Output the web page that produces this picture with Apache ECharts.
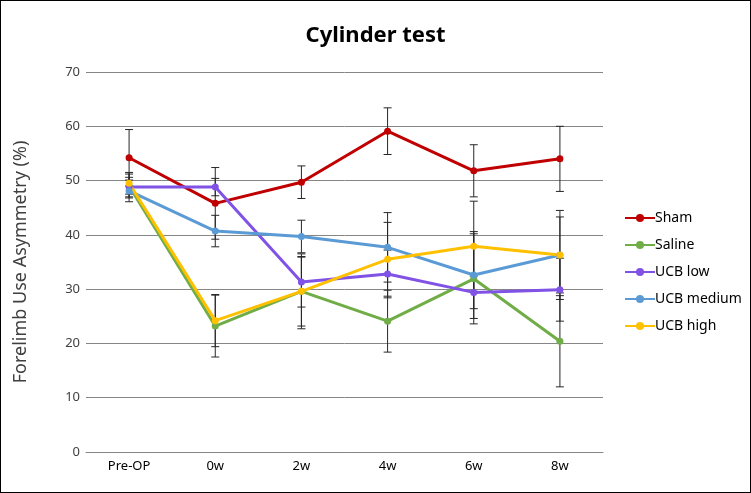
<!DOCTYPE html>
<html><head><meta charset="utf-8">
<script src="https://cdn.jsdelivr.net/npm/echarts@6/dist/echarts.min.js"></script>
<style>
html,body{margin:0;padding:0;background:#fff;}
#c{width:751px;height:493px;box-sizing:border-box;border:1px solid #000;}
</style></head>
<body><div id="c"></div>
<script>
const categories = ['Pre-OP','0w','2w','4w','6w','8w'];
const yTicks = [0,10,20,30,40,50,60,70];
const seriesNames = ['Sham','Saline','UCB low','UCB medium','UCB high'];
const sham      = [54.2, 45.8, 49.7, 59.1, 51.8, 54.0];
const saline    = [49.0, 23.2, 29.6, 24.1, 31.9, 20.4];
const ucbLow    = [48.8, 48.8, 31.3, 32.8, 29.4, 29.9];
const ucbMedium = [48.1, 40.7, 39.7, 37.7, 32.6, 36.3];
const ucbHigh   = [49.5, 24.2, 29.6, 35.5, 37.9, 36.3];
const shamErr      = [5.2, 6.6, 3.0, 4.3, 4.8, 6.0];
const salineErr    = [2.2, 5.7, 6.9, 5.7, 8.3, 8.4];
const ucbLowErr    = [1.8, 1.6, 4.6, 4.4, 3.0, 5.8];
const ucbMediumErr = [2.0, 2.9, 3.0, 6.4, 8.0, 8.2];
const ucbHighErr   = [2.0, 4.8, 6.4, 6.8, 8.3, 7.0];
const colors = ['#C00000','#70AD47','#8052E6','#5B9BD5','#FFC000'];

const values = [sham, saline, ucbLow, ucbMedium, ucbHigh];
const errs = [shamErr, salineErr, ucbLowErr, ucbMediumErr, ucbHighErr];

const chart = echarts.init(document.getElementById('c'));
const series = [];
values.forEach((vals, i) => {
  series.push({
    type: 'custom',
    name: seriesNames[i] + ' err',
    z: 1,
    silent: true,
    data: vals.map((v, k) => [k, v - errs[i][k], v + errs[i][k]]),
    encode: {x: 0, y: [1, 2]},
    renderItem: function (params, api) {
      const x = api.value(0);
      const lo = api.coord([x, api.value(1)]);
      const hi = api.coord([x, api.value(2)]);
      const w = 4;
      const st = {stroke: '#262626', lineWidth: 1};
      return {type: 'group', children: [
        {type: 'line', shape: {x1: lo[0], y1: lo[1], x2: hi[0], y2: hi[1]}, style: st},
        {type: 'line', shape: {x1: lo[0]-w, y1: lo[1], x2: lo[0]+w, y2: lo[1]}, style: st},
        {type: 'line', shape: {x1: hi[0]-w, y1: hi[1], x2: hi[0]+w, y2: hi[1]}, style: st}
      ]};
    }
  });
});
values.forEach((vals, i) => {
  series.push({
    type: 'line',
    name: seriesNames[i],
    z: 3,
    data: vals,
    symbol: 'circle',
    symbolSize: 7,
    color: colors[i],
    lineStyle: {width: 3, color: colors[i]},
    itemStyle: {color: colors[i]}
  });
});

chart.setOption({
  animation: false,
  title: {
    text: 'Cylinder test', left: 'center', top: 19,
    textStyle: {fontFamily: 'Noto Sans', fontSize: 22, fontWeight: 'bold', color: '#000'}
  },
  legend: {
    data: seriesNames,
    orient: 'vertical',
    left: 618, top: 205,
    itemGap: 13, itemWidth: 30, itemHeight: 10,
    textStyle: {fontFamily: 'Noto Sans', fontSize: 14, color: '#000', padding: [0,0,0,-5]}
  },
  grid: {left: 85, right: 147, top: 71, bottom: 40},
  xAxis: {
    type: 'category', data: categories, boundaryGap: true,
    axisLine: {lineStyle: {color: '#868686'}},
    axisTick: {show: false},
    axisLabel: {fontFamily: 'Noto Sans', fontSize: 13, color: '#000', margin: 8}
  },
  yAxis: {
    type: 'value', min: 0, max: 70, interval: 10,
    name: 'Forelimb Use Asymmetry (%)', nameLocation: 'middle', nameGap: 56,
    nameTextStyle: {fontFamily: 'Noto Sans', fontSize: 18, color: '#404040'},
    axisLine: {show: false}, axisTick: {show: false},
    axisLabel: {fontFamily: 'Noto Sans', fontSize: 13, color: '#404040', margin: 6,
      formatter: v => yTicks.includes(v) ? String(v) : ''},
    splitLine: {lineStyle: {color: '#868686', width: 1}}
  },
  series: series
});
</script></body></html>
